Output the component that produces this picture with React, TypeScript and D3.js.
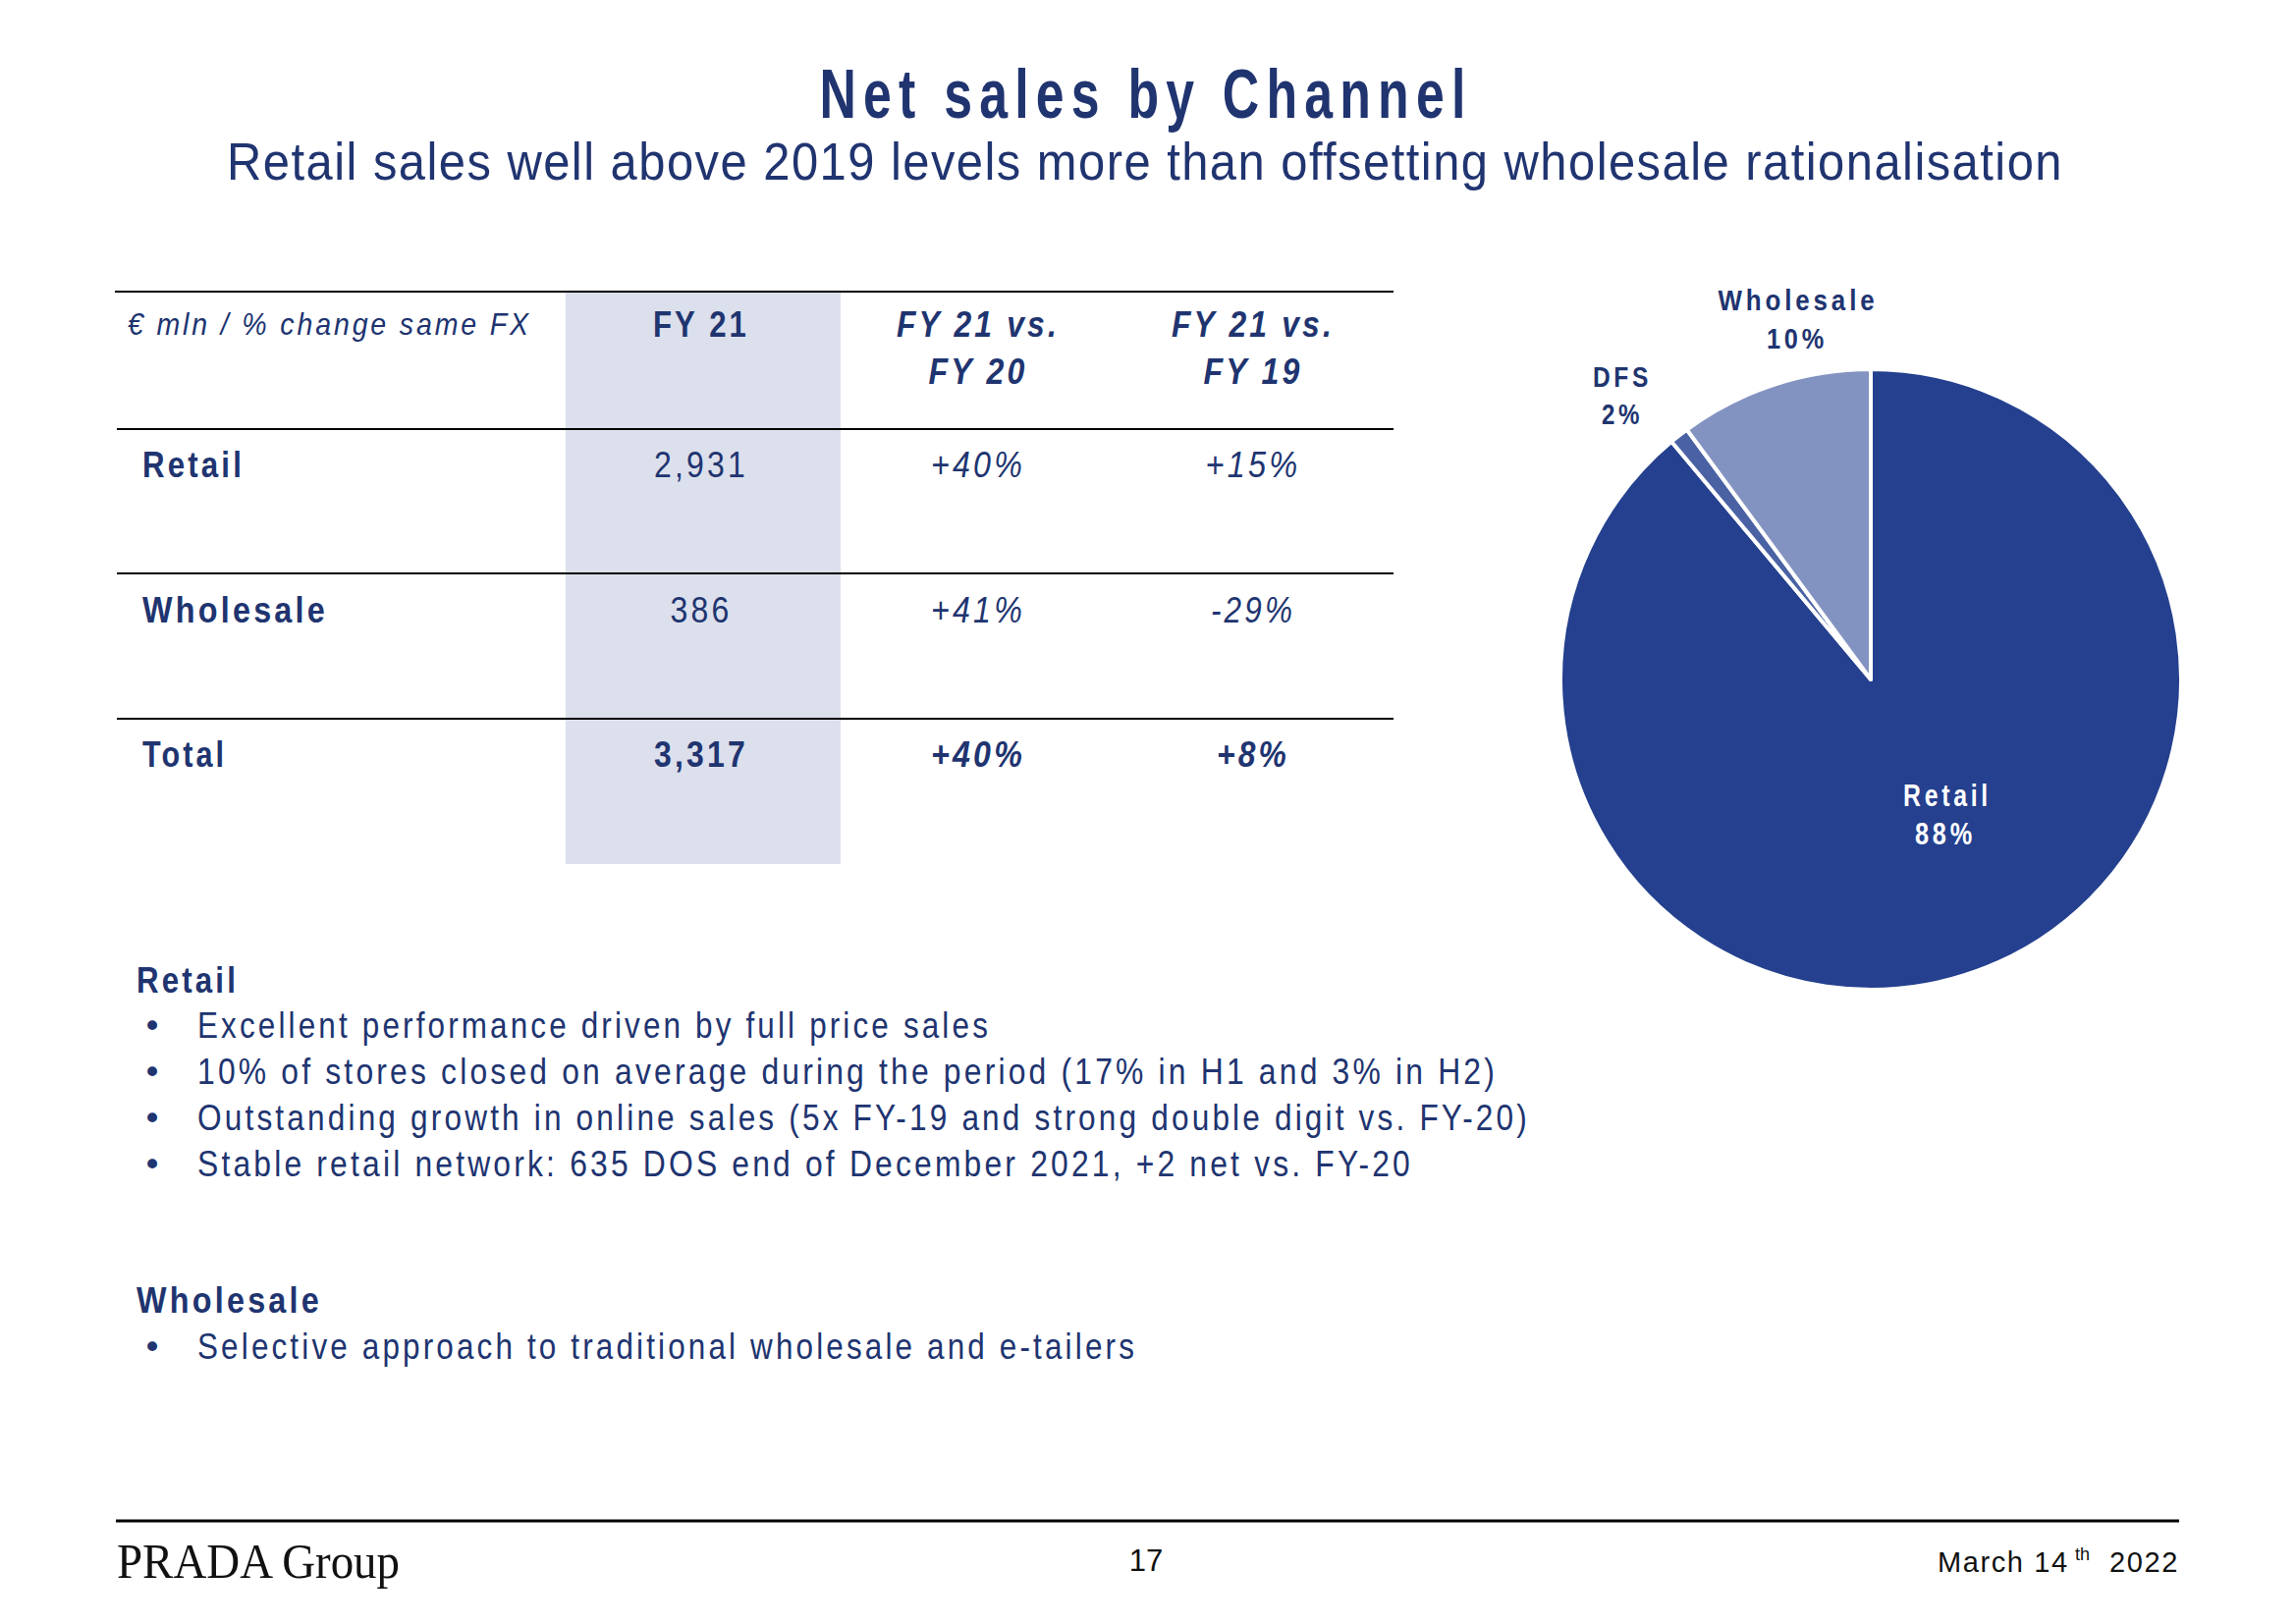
import React from "react";
import * as d3 from "d3";

const title = "Net sales by Channel";
const subtitle = "Retail sales well above 2019 levels more than offsetting wholesale rationalisation";

const headerLabel = "€ mln / % change same FX";
const colHeaders = [["FY 21"], ["FY 21 vs.", "FY 20"], ["FY 21 vs.", "FY 19"]];
const rowLabels = ["Retail", "Wholesale", "Total"];
const fy21 = ["2,931", "386", "3,317"];
const vsFy20 = ["+40%", "+41%", "+40%"];
const vsFy19 = ["+15%", "-29%", "+8%"];

const pieCategories = ["Retail", "DFS", "Wholesale"];
const pieValues = [88.9, 1.0, 10.1];
const pieLabels = ["88%", "2%", "10%"];

const retailHeading = "Retail";
const retailBullets = [
  "Excellent performance driven by full price sales",
  "10% of stores closed on average during the period (17% in H1 and 3% in H2)",
  "Outstanding growth in online sales (5x FY-19 and strong double digit vs. FY-20)",
  "Stable retail network: 635 DOS end of December 2021, +2 net vs. FY-20",
];
const wholesaleHeading = "Wholesale";
const wholesaleBullets = ["Selective approach to traditional wholesale and e-tailers"];

const footerLeft = "PRADA Group";
const pageNumber = "17";
const dateParts = ["March 14", "th", "2022"];

const NAVY = "#203470";
const FONT = "'Liberation Sans', Arial, sans-serif";

// styling constants (widths of rendered text in the reference)
const retailBulletWidths = [808, 1324, 1357, 1238];
const wholesaleBulletWidths = [957];
const rowLabelWidths = [104, 189, 86];
const fy21Widths = [96, 63, 96];
const vs20Widths = [96, 96, 96];
const vs19Widths = [97, 86, 74];

function T(props: any) {
  const { children, w, ls, ...rest } = props;
  return (
    <text
      fontFamily={FONT}
      fill={NAVY}
      letterSpacing={ls || "0.1em"}
      {...rest}
      {...(w ? { textLength: w, lengthAdjust: "spacingAndGlyphs" } : {})}
    >
      {children}
    </text>
  );
}

export default function App() {
  const W = 2338;
  const H = 1654;

  // table geometry
  const colX = d3.scaleOrdinal<number, number>().domain([0, 1, 2]).range([714, 996, 1276]);
  const rowY = d3.scalePoint<string>().domain(rowLabels).range([486, 781]);
  const lineYs = [297, 437, 584, 732];

  // pie
  const cx = 1905;
  const cy = 692;
  const r = 316;
  const pie = d3.pie<number>().sort(null).value((d) => d);
  const arcs = pie(pieValues);
  const arcGen = d3.arc<d3.PieArcDatum<number>>().innerRadius(0).outerRadius(r);
  const pieColors = d3.scaleOrdinal<string, string>().domain(pieCategories).range(["#24408E", "#4A62A4", "#8393C1"]);

  const bulletY0 = 1057;
  const bulletStep = 47;

  return (
    <svg width={W} height={H} style={{ position: "absolute", left: 0, top: 0, background: "#fff" }}>
      <rect x={0} y={0} width={W} height={H} fill="#fff" />
      {/* Title */}
      <T x={1167} y={120} textAnchor="middle" fontSize={70} fontWeight="bold" w={665} ls="0.14em">
        {title}
      </T>
      <T x={1166} y={183} textAnchor="middle" fontSize={53} w={1870} ls="0.03em">
        {subtitle}
      </T>

      {/* Table shade */}
      <rect x={576} y={297} width={280} height={583} fill="#DCE0EC" />
      {lineYs.map((y, i) => (
        <line key={i} x1={i === 0 ? 117 : 119} x2={1419} y1={y} y2={y} stroke="#000" strokeWidth={2} />
      ))}

      {/* Header */}
      <T x={130} y={341} fontSize={32} fontStyle="italic" w={411}>
        {headerLabel}
      </T>
      {colHeaders.map((lines, ci) =>
        lines.map((t, li) => (
          <T
            key={ci + "-" + li}
            x={colX(ci)}
            y={343 + li * 48}
            textAnchor="middle"
            fontSize={37}
            fontWeight="bold"
            fontStyle={ci === 0 ? "normal" : "italic"}
            w={ci === 0 ? 98 : li === 0 ? 166 : 101}
          >
            {t}
          </T>
        ))
      )}

      {/* Rows */}
      {rowLabels.map((lab, i) => {
        const y = rowY(lab) as number;
        const isTotal = i === rowLabels.length - 1;
        return (
          <g key={lab}>
            <T x={145} y={y} fontSize={37} fontWeight="bold" w={rowLabelWidths[i]}>
              {lab}
            </T>
            <T x={colX(0)} y={y} textAnchor="middle" fontSize={37} fontWeight={isTotal ? "bold" : "normal"} w={fy21Widths[i]}>
              {fy21[i]}
            </T>
            <T x={colX(1)} y={y} textAnchor="middle" fontSize={37} fontStyle="italic" fontWeight={isTotal ? "bold" : "normal"} w={vs20Widths[i]}>
              {vsFy20[i]}
            </T>
            <T x={colX(2)} y={y} textAnchor="middle" fontSize={37} fontStyle="italic" fontWeight={isTotal ? "bold" : "normal"} w={vs19Widths[i]}>
              {vsFy19[i]}
            </T>
          </g>
        );
      })}

      {/* Pie */}
      <g transform={`translate(${cx},${cy})`}>
        {arcs.map((a, i) => (
          <path key={i} d={arcGen(a) || ""} fill={pieColors(pieCategories[i])} stroke="#fff" strokeWidth={4} strokeLinejoin="round" />
        ))}
      </g>
      {/* Pie labels */}
      <T x={1983} y={821} textAnchor="middle" fontSize={31} fontWeight="bold" fill="#fff" w={90} ls="0.15em">
        {pieCategories[0]}
      </T>
      <T x={1981} y={860} textAnchor="middle" fontSize={31} fontWeight="bold" fill="#fff" w={62} ls="0.15em">
        {pieLabels[0]}
      </T>
      <T x={1652} y={394} textAnchor="middle" fontSize={29} fontWeight="bold" w={60} ls="0.15em">
        {pieCategories[1]}
      </T>
      <T x={1652} y={432} textAnchor="middle" fontSize={29} fontWeight="bold" w={42} ls="0.15em">
        {pieLabels[1]}
      </T>
      <T x={1831} y={316} textAnchor="middle" fontSize={29} fontWeight="bold" w={163} ls="0.15em">
        {pieCategories[2]}
      </T>
      <T x={1830} y={355} textAnchor="middle" fontSize={29} fontWeight="bold" w={62} ls="0.15em">
        {pieLabels[2]}
      </T>

      {/* Bullets */}
      <T x={139} y={1011} fontSize={37} fontWeight="bold" w={104}>
        {retailHeading}
      </T>
      {retailBullets.map((b, i) => (
        <g key={b}>
          <text x={145} y={bulletY0 + i * bulletStep} fontSize={34} fontFamily="'DejaVu Sans', sans-serif" fill={NAVY}>•</text>
          <T x={201} y={bulletY0 + i * bulletStep} fontSize={37} w={retailBulletWidths[i]}>
            {b}
          </T>
        </g>
      ))}
      <T x={139} y={1337} fontSize={37} fontWeight="bold" w={189}>
        {wholesaleHeading}
      </T>
      {wholesaleBullets.map((b, i) => (
        <g key={b}>
          <text x={145} y={1384 + i * bulletStep} fontSize={34} fontFamily="'DejaVu Sans', sans-serif" fill={NAVY}>•</text>
          <T x={201} y={1384 + i * bulletStep} fontSize={37} w={wholesaleBulletWidths[i]}>
            {b}
          </T>
        </g>
      ))}

      {/* Footer */}
      <line x1={118} x2={2219} y1={1549} y2={1549} stroke="#000" strokeWidth={3} />
      <text x={119} y={1607} fontFamily="'Liberation Serif', 'Times New Roman', serif" fontSize={50} fill="#111" textLength={288} lengthAdjust="spacingAndGlyphs">
        {footerLeft}
      </text>
      <text x={1167} y={1600} textAnchor="middle" fontFamily={FONT} fontSize={31} fill="#111">
        {pageNumber}
      </text>
      <text x={1973} y={1601} fontFamily={FONT} fontSize={29} fill="#111" letterSpacing="1.6">
        {dateParts[0]}
      </text>
      <text x={2113} y={1589} fontFamily={FONT} fontSize={18} fill="#111">
        {dateParts[1]}
      </text>
      <text x={2219} y={1601} textAnchor="end" fontFamily={FONT} fontSize={29} fill="#111" letterSpacing="1.6">
        {dateParts[2]}
      </text>
    </svg>
  );
}
